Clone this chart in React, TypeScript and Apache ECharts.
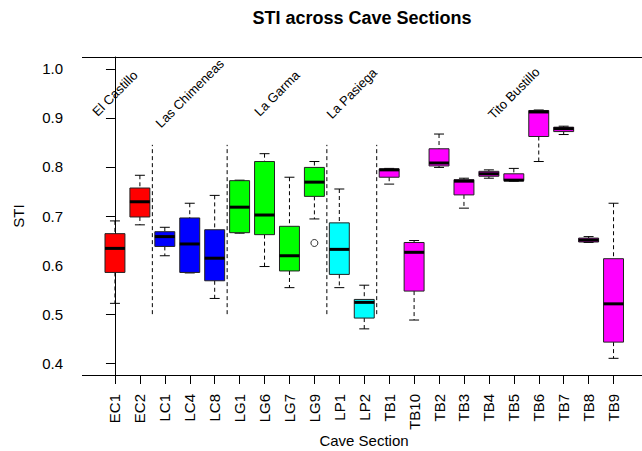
import React, { useEffect, useRef } from "react";
import * as echarts from "echarts";

const categories = ["EC1", "EC2", "LC1", "LC4", "LC8", "LG1", "LG6", "LG7", "LG9", "LP1", "LP2", "TB1", "TB10", "TB2", "TB3", "TB4", "TB5", "TB6", "TB7", "TB8", "TB9"];
const whiskerLow = [0.522, 0.682, 0.619, 0.584, 0.532, 0.665, 0.597, 0.554, 0.694, 0.554, 0.470, 0.765, 0.488, 0.799, 0.716, 0.777, 0.771, 0.811, 0.866, 0.646, 0.410];
const q1 = [0.585, 0.698, 0.638, 0.585, 0.568, 0.666, 0.662, 0.588, 0.740, 0.581, 0.492, 0.779, 0.547, 0.802, 0.743, 0.781, 0.772, 0.862, 0.872, 0.647, 0.443];
const medians = [0.634, 0.729, 0.658, 0.643, 0.614, 0.718, 0.702, 0.619, 0.769, 0.632, 0.524, 0.794, 0.626, 0.808, 0.771, 0.786, 0.773, 0.912, 0.878, 0.651, 0.521];
const q3 = [0.664, 0.757, 0.668, 0.696, 0.672, 0.772, 0.811, 0.679, 0.799, 0.686, 0.530, 0.796, 0.646, 0.837, 0.774, 0.791, 0.786, 0.915, 0.881, 0.655, 0.613];
const whiskerHigh = [0.690, 0.783, 0.677, 0.726, 0.742, 0.773, 0.827, 0.779, 0.811, 0.755, 0.559, 0.797, 0.650, 0.867, 0.777, 0.794, 0.797, 0.916, 0.883, 0.658, 0.726];
const outlierSections = ["LG9"];
const outlierValues = [0.645];
const caveNames = ["El Castillo", "Las Chimeneas", "La Garma", "La Pasiega", "Tito Bustillo"];
const caveOfSection = [0, 0, 1, 1, 1, 2, 2, 2, 2, 3, 3, 4, 4, 4, 4, 4, 4, 4, 4, 4, 4];
const caveLabelAt = [0, 3, 6.5, 9.5, 16];
const caveLabelValue = 0.95;
const separatorFrom = 0.5;
const separatorTo = 0.845;
const yTicks = [0.4, 0.5, 0.6, 0.7, 0.8, 0.9, 1.0];
const yMin = 0.376;
const yMax = 1.024;

const caveColors = ["#ff0000", "#0000ff", "#00ff00", "#00ffff", "#ff00ff"];
const FONT = "'Liberation Sans', Arial, Helvetica, sans-serif";

const W = 642;
const H = 451;
const GRID_LEFT = 102.5;
const GRID_RIGHT = 16;
const GRID_TOP = 57;
const GRID_BOTTOM = 76;
const FRAME_LEFT = 82;

export default function App() {
  const ref = useRef<HTMLDivElement>(null);

  useEffect(() => {
    if (!ref.current) return;
    const chart = echarts.init(ref.current, null, { renderer: "svg" });

    const boxData = categories.map((_, i) => [i, whiskerLow[i], q1[i], medians[i], q3[i], whiskerHigh[i]]);
    const separators: number[][] = [];
    for (let i = 0; i < caveOfSection.length - 1; i++) {
      if (caveOfSection[i] !== caveOfSection[i + 1]) separators.push([i + 0.5, separatorFrom, separatorTo]);
    }
    const labelData = caveNames.map((_, k) => [caveLabelAt[k], caveLabelValue]);
    const outlierData = outlierSections.map((s, k) => [categories.indexOf(s), outlierValues[k]]);

    const frameTop = GRID_TOP + 0.5;
    const frameBottom = H - GRID_BOTTOM + 0.5;

    chart.setOption({
      animation: false,
      backgroundColor: "#ffffff",
      textStyle: { fontFamily: FONT },
      grid: { left: GRID_LEFT, right: GRID_RIGHT, top: GRID_TOP, bottom: GRID_BOTTOM, containLabel: false },
      xAxis: [
        {
          type: "category",
          data: categories,
          boundaryGap: true,
          axisLine: { show: false },
          axisTick: { show: true, alignWithLabel: true, length: 9, lineStyle: { color: "#000", width: 1 } },
          axisLabel: { rotate: 90, margin: 19, fontSize: 15, color: "#000", fontFamily: FONT, interval: 0 },
          splitLine: { show: false },
        },
        { type: "value", min: -0.5, max: categories.length - 0.5, show: false },
      ],
      yAxis: {
        type: "value",
        min: yMin,
        max: yMax,
        offset: GRID_LEFT - FRAME_LEFT,
        axisLine: { show: true, lineStyle: { color: "#000", width: 1 } },
        axisTick: { show: true, length: 9, customValues: yTicks, lineStyle: { color: "#000" } },
        axisLabel: {
          customValues: yTicks,
          margin: 19,
          fontSize: 15,
          color: "#000",
          fontFamily: FONT,
          formatter: (v: number) => v.toFixed(1),
        },
        splitLine: { show: false },
      },
      graphic: [
        { type: "line", shape: { x1: FRAME_LEFT, y1: frameTop, x2: W, y2: frameTop }, style: { stroke: "#000", lineWidth: 1 } },
        { type: "line", shape: { x1: FRAME_LEFT, y1: frameBottom, x2: W, y2: frameBottom }, style: { stroke: "#000", lineWidth: 1 } },
        {
          type: "text", x: 362, y: 18,
          style: { text: "STI across Cave Sections", font: `bold 18px ${FONT}`, fill: "#000", align: "center", verticalAlign: "middle" },
        },
        {
          type: "text", x: 364, y: 440,
          style: { text: "Cave Section", font: `15px ${FONT}`, fill: "#000", align: "center", verticalAlign: "middle" },
        },
        {
          type: "text", x: 18, y: 216, rotation: Math.PI / 2,
          style: { text: "STI", font: `15px ${FONT}`, fill: "#000", align: "center", verticalAlign: "middle" },
        },
      ],
      series: [
        {
          type: "custom",
          xAxisIndex: 1,
          data: separators,
          encode: { x: 0, y: [1, 2] },
          silent: true,
          renderItem: (_p: any, api: any) => {
            const a = api.coord([api.value(0), api.value(1)]);
            const b = api.coord([api.value(0), api.value(2)]);
            return {
              type: "line",
              shape: { x1: a[0], y1: a[1], x2: b[0], y2: b[1] },
              style: { stroke: "#000", lineWidth: 1, lineDash: [4, 3] },
            };
          },
        },
        {
          type: "custom",
          xAxisIndex: 1,
          data: boxData,
          encode: { x: 0, y: [1, 2, 3, 4, 5] },
          renderItem: (params: any, api: any) => {
            const i = api.value(0);
            const band = api.size([1, 0])[0];
            const bw = band * 0.8;
            const sw = bw * 0.5;
            const xc = api.coord([i, api.value(3)])[0];
            const yLow = api.coord([i, api.value(1)])[1];
            const yQ1 = api.coord([i, api.value(2)])[1];
            const yMed = api.coord([i, api.value(3)])[1];
            const yQ3 = api.coord([i, api.value(4)])[1];
            const yHigh = api.coord([i, api.value(5)])[1];
            const color = caveColors[caveOfSection[params.dataIndex]];
            const dash = { stroke: "#000", lineWidth: 1, lineDash: [4, 3] };
            const solid = { stroke: "#000", lineWidth: 1 };
            return {
              type: "group",
              children: [
                { type: "line", shape: { x1: xc, y1: yHigh, x2: xc, y2: yQ3 }, style: dash },
                { type: "line", shape: { x1: xc, y1: yQ1, x2: xc, y2: yLow }, style: dash },
                { type: "line", shape: { x1: xc - sw / 2, y1: yHigh, x2: xc + sw / 2, y2: yHigh }, style: solid },
                { type: "line", shape: { x1: xc - sw / 2, y1: yLow, x2: xc + sw / 2, y2: yLow }, style: solid },
                { type: "rect", shape: { x: xc - bw / 2, y: yQ3, width: bw, height: yQ1 - yQ3 }, style: { fill: color, stroke: "#222", lineWidth: 1 } },
                { type: "line", shape: { x1: xc - bw / 2, y1: yMed, x2: xc + bw / 2, y2: yMed }, style: { stroke: "#000", lineWidth: 3 } },
              ],
            };
          },
        },
        {
          type: "scatter",
          xAxisIndex: 1,
          data: outlierData,
          symbol: "circle",
          symbolSize: 7,
          itemStyle: { color: "#fff", borderColor: "#000", borderWidth: 1 },
        },
        {
          type: "custom",
          xAxisIndex: 1,
          data: labelData,
          encode: { x: 0, y: 1 },
          silent: true,
          renderItem: (params: any, api: any) => {
            const p = api.coord([api.value(0), api.value(1)]);
            return {
              type: "text",
              x: p[0],
              y: p[1],
              rotation: Math.PI / 4,
              style: {
                text: caveNames[params.dataIndex],
                font: `13px ${FONT}`,
                fill: "#000",
                align: "center",
                verticalAlign: "middle",
              },
            };
          },
        },
      ],
    });

    return () => chart.dispose();
  }, []);

  return <div ref={ref} style={{ position: "absolute", left: 0, top: 0, width: W, height: H }} />;
}
